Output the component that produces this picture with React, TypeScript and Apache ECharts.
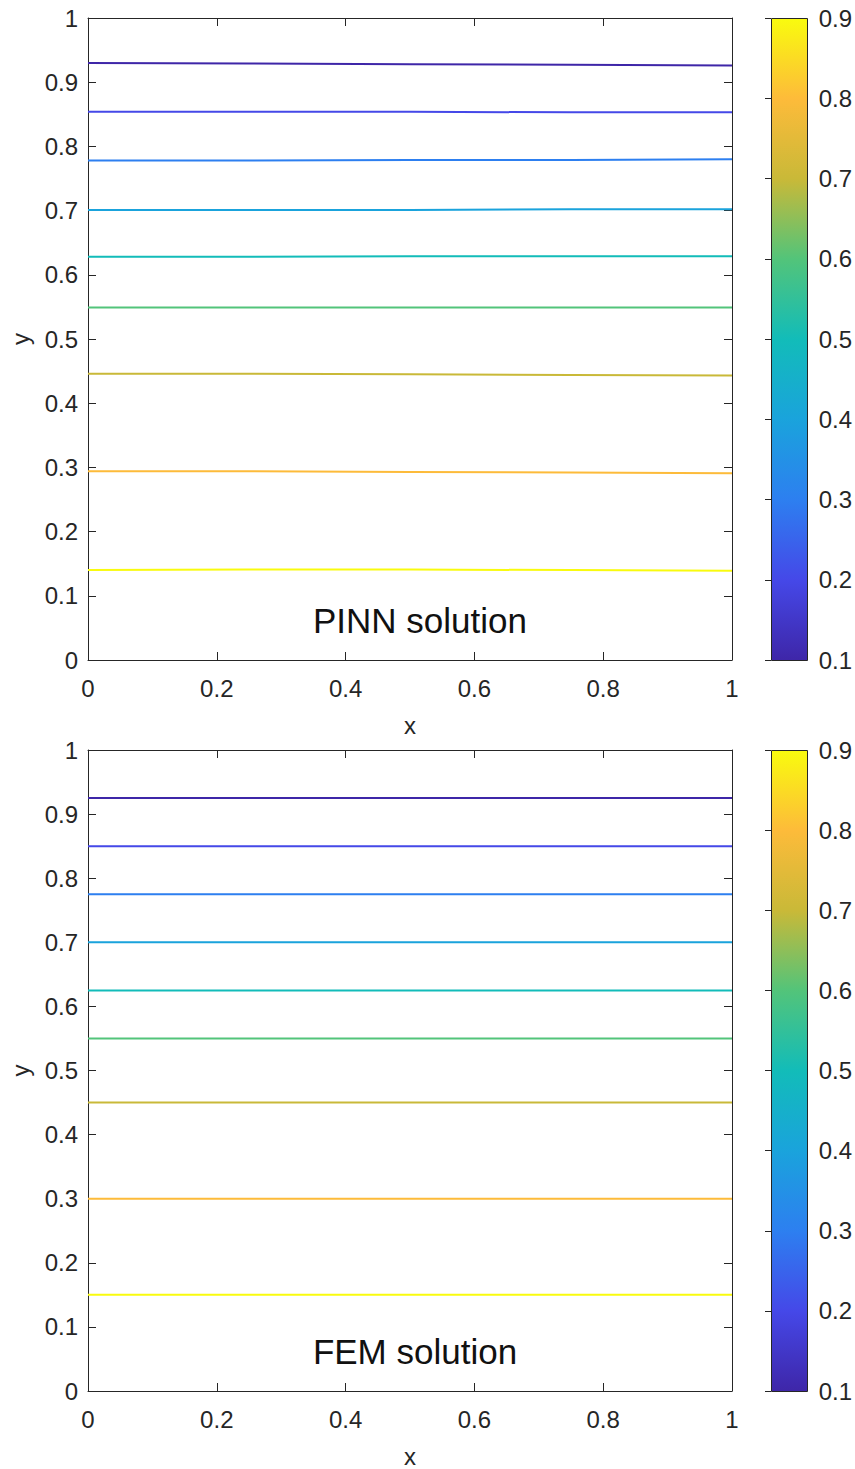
import { useEffect, useRef } from "react";
import * as echarts from "echarts";

// Sample positions along x where the contour heights were taken
const xs = [0, 0.25, 0.5, 0.75, 1];

// Contour levels of the solution field
const levels = [0.1, 0.2, 0.3, 0.4, 0.5, 0.6, 0.7, 0.8, 0.9];

// PINN contour heights y(x) at xs, one row per level
const pinnY = [
  [0.93, 0.929, 0.928, 0.927, 0.926],
  [0.854, 0.854, 0.854, 0.853, 0.853],
  [0.778, 0.778, 0.779, 0.779, 0.78],
  [0.701, 0.701, 0.701, 0.702, 0.702],
  [0.628, 0.628, 0.629, 0.629, 0.629],
  [0.549, 0.549, 0.549, 0.549, 0.549],
  [0.446, 0.446, 0.445, 0.444, 0.443],
  [0.294, 0.294, 0.293, 0.292, 0.291],
  [0.14, 0.141, 0.141, 0.14, 0.139],
];

// FEM contour heights (straight lines), one per level
const femY = [0.925, 0.85, 0.775, 0.7, 0.625, 0.55, 0.45, 0.3, 0.15];

// Axis ticks
const xTickStep = 0.2;
const yTickStep = 0.1;
const cbarRange = [0.1, 0.9];

// Parula colormap, sampled at 0, 1/8, ..., 1
const parula = [
  "#3E26A8",
  "#4548E8",
  "#2D7FF0",
  "#1AA3DC",
  "#12BCB9",
  "#52C47A",
  "#C9B938",
  "#FDBB3A",
  "#F9FB0E",
];

const FONT = "'Liberation Sans', Arial, Helvetica, sans-serif";
const INK = "#262626";
const TICK_FONT = 24;

const gridMainTop = { left: 88, top: 18, width: 644, height: 642 };
const gridBarTop = { left: 771, top: 18, width: 36, height: 642 };
const gridMainBot = { left: 88, top: 750, width: 644, height: 641 };
const gridBarBot = { left: 771, top: 750, width: 36, height: 641 };

function mainX(gridIndex: number, position: "bottom" | "top") {
  const isBottom = position === "bottom";
  return {
    type: "value",
    gridIndex,
    position,
    min: 0,
    max: 1,
    interval: xTickStep,
    name: isBottom ? "x" : "",
    nameLocation: "middle",
    nameGap: 53,
    nameTextStyle: { fontFamily: FONT, fontSize: TICK_FONT, color: INK },
    axisLine: { show: true, onZero: false, lineStyle: { color: INK, width: 1 } },
    axisTick: { show: true, inside: true, length: 8, lineStyle: { color: INK, width: 1 } },
    axisLabel: {
      show: isBottom,
      margin: 16,
      fontFamily: FONT,
      fontSize: TICK_FONT,
      color: INK,
    },
    splitLine: { show: false },
  };
}

function mainY(gridIndex: number, position: "left" | "right") {
  const isLeft = position === "left";
  return {
    type: "value",
    gridIndex,
    position,
    min: 0,
    max: 1,
    interval: yTickStep,
    name: isLeft ? "y" : "",
    nameLocation: "middle",
    nameGap: 56,
    nameRotate: 90,
    nameTextStyle: { fontFamily: FONT, fontSize: TICK_FONT, color: INK },
    axisLine: { show: true, onZero: false, lineStyle: { color: INK, width: 1 } },
    axisTick: { show: true, inside: true, length: 8, lineStyle: { color: INK, width: 1 } },
    axisLabel: {
      show: isLeft,
      margin: 10,
      fontFamily: FONT,
      fontSize: TICK_FONT,
      color: INK,
    },
    splitLine: { show: false },
  };
}

function barX(gridIndex: number) {
  return { type: "value", gridIndex, min: 0, max: 1, show: false };
}

function barY(gridIndex: number) {
  return {
    type: "value",
    gridIndex,
    position: "right",
    min: cbarRange[0],
    max: cbarRange[1],
    interval: 0.1,
    axisLine: { show: false },
    axisTick: { show: true, inside: true, length: 6, lineStyle: { color: INK, width: 1 } },
    axisLabel: { margin: 12, fontFamily: FONT, fontSize: TICK_FONT, color: INK },
    splitLine: { show: false },
  };
}

function contourSeries(rows: number[][], axisIndex: number) {
  return rows.map((ys, i) => ({
    type: "line",
    name: String(levels[i]),
    xAxisIndex: axisIndex,
    yAxisIndex: axisIndex,
    data: xs.map((x, j) => [x, ys[j]]),
    symbol: "none",
    silent: true,
    lineStyle: { color: parula[i], width: 2 },
  }));
}

function colorbarSeries(axisIndex: number) {
  return {
    type: "custom",
    xAxisIndex: axisIndex,
    yAxisIndex: axisIndex,
    silent: true,
    data: [[0, cbarRange[0], 1, cbarRange[1]]],
    renderItem: (_params: any, api: any) => {
      const p0 = api.coord([api.value(0), api.value(1)]);
      const p1 = api.coord([api.value(2), api.value(3)]);
      const stops = parula.map((c, k) => ({ offset: k / (parula.length - 1), color: c }));
      return {
        type: "rect",
        shape: {
          x: Math.round(p0[0]) + 0.5,
          y: Math.round(p1[1]) + 0.5,
          width: Math.round(p1[0] - p0[0]),
          height: Math.round(p0[1] - p1[1]),
        },
        style: {
          fill: new echarts.graphic.LinearGradient(0, 1, 0, 0, stops),
          stroke: INK,
          lineWidth: 1,
        },
      };
    },
  };
}

export default function App() {
  const ref = useRef<HTMLDivElement>(null);

  useEffect(() => {
    if (!ref.current) return;
    const chart = echarts.init(ref.current, undefined, { renderer: "svg" });
    const femRows = femY.map((y) => xs.map(() => y));

    chart.setOption({
      animation: false,
      backgroundColor: "#ffffff",
      grid: [gridMainTop, gridBarTop, gridMainBot, gridBarBot].map((g) => ({
        ...g,
        containLabel: false,
      })),
      xAxis: [
        mainX(0, "bottom"),
        mainX(0, "top"),
        barX(1),
        mainX(2, "bottom"),
        mainX(2, "top"),
        barX(3),
      ],
      yAxis: [
        mainY(0, "left"),
        mainY(0, "right"),
        barY(1),
        mainY(2, "left"),
        mainY(2, "right"),
        barY(3),
      ],
      series: [
        ...contourSeries(pinnY, 0),
        ...contourSeries(femRows, 3),
        colorbarSeries(2),
        colorbarSeries(5),
      ],
      graphic: [
        {
          type: "text",
          x: 420,
          y: 620,
          silent: true,
          style: {
            text: "PINN solution",
            fontFamily: FONT,
            fontSize: 35,
            fill: "#111111",
            align: "center",
            verticalAlign: "middle",
          },
        },
        {
          type: "text",
          x: 415,
          y: 1351,
          silent: true,
          style: {
            text: "FEM solution",
            fontFamily: FONT,
            fontSize: 35,
            fill: "#111111",
            align: "center",
            verticalAlign: "middle",
          },
        },
      ],
    });

    return () => chart.dispose();
  }, []);

  return (
    <div
      ref={ref}
      style={{ position: "absolute", left: 0, top: 0, width: 855, height: 1469 }}
    />
  );
}
